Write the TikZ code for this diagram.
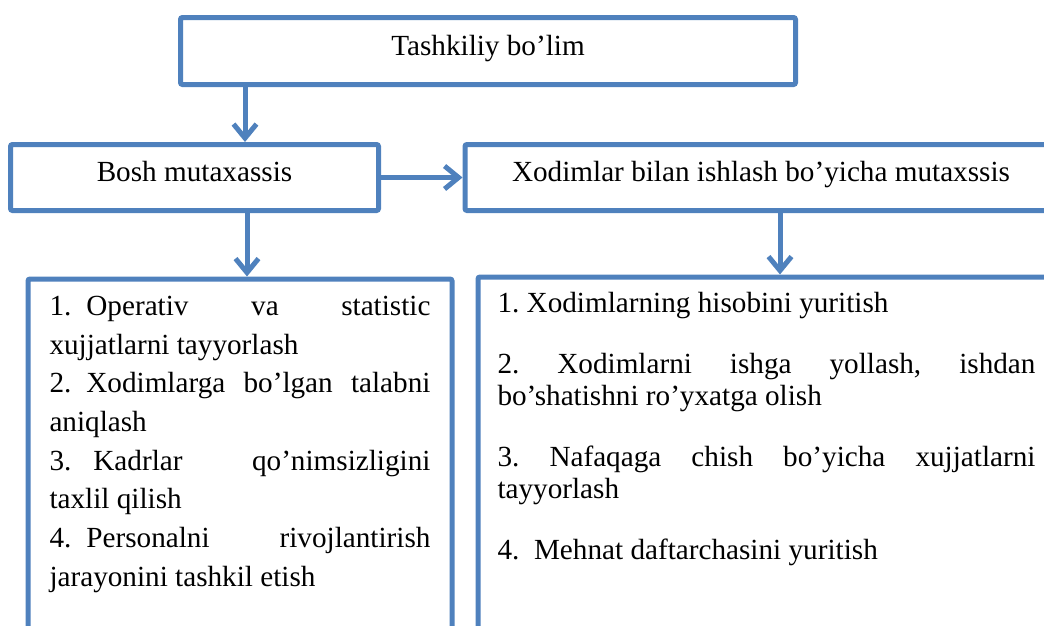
\documentclass[tikz,border=0pt]{standalone}
\usepackage{fontspec}
\setmainfont{Liberation Serif}
\usetikzlibrary{arrows.meta}
\definecolor{boxblue}{HTML}{4F81BD}
\hyphenpenalty=10000
\exhyphenpenalty=10000
\tolerance=10000
\hbadness=10000
\frenchspacing
\tikzset{
    unitbox/.style={draw=boxblue, line width=5pt, rounded corners=2pt, fill=white,
        align=center, inner sep=0pt, text height=19pt, text depth=11pt,
        font=\fontsize{29.2}{34}\selectfont},
    listbox/.style={draw=boxblue, line width=5pt, rounded corners=2pt, fill=white,
        anchor=north west, align=justify},
    arr/.style={draw=boxblue, line width=5pt, -{Straight Barb[length=14pt,width=23pt]}},
}
\begin{document}
\begin{tikzpicture}[x=1pt, y=-1pt]
    \useasboundingbox (0,0) rectangle (1044,625);
    \clip (0,0) rectangle (1044,625);

    %%the unit boxes
    \node[unitbox, minimum width=615pt, minimum height=67pt] (bolim) at (488, 51) {Tashkiliy bo’lim};
    \node[unitbox, minimum width=368pt, minimum height=66pt] (bosh) at (194.5, 177.5) {Bosh mutaxassis};
    \node[unitbox, minimum width=592pt, minimum height=66pt] (xodim) at (761, 177.5) {Xodimlar bilan ishlash bo’yicha mutaxssis};

    %%the task lists
    \node[listbox, text width=381pt, inner xsep=21.5pt, inner ysep=17pt,
        font=\fontsize{29.2}{38.7}\selectfont] (boshlist) at (25.5, 276.5) {%
        1.\hspace{15pt}Operativ va statistic\linebreak xujjatlarni tayyorlash\par
        2.\hspace{15pt}Xodimlarga bo’lgan talabni\linebreak aniqlash\par
        3.\hspace{22pt}Kadrlar qo’nimsizligini\linebreak taxlil qilish\par
        4.\hspace{15pt}Personalni rivojlantirish\linebreak jarayonini tashkil etish\par
        \rule{0pt}{120pt}};
    \node[listbox, text width=538pt, inner xsep=19.5pt, inner ysep=15pt,
        font=\fontsize{29.2}{31.5}\selectfont] (xodimlist) at (475.5, 274.5) {%
        \setlength{\parskip}{30pt}%
        1. Xodimlarning hisobini yuritish\par
        2. Xodimlarni ishga yollash, ishdan\linebreak bo’shatishni ro’yxatga olish\par
        3. Nafaqaga chish bo’yicha xujjatlarni\linebreak tayyorlash\par
        4.~~Mehnat daftarchasini yuritish\par
        \rule{0pt}{120pt}};

    %%the arrows
    \coordinate (c1) at (245, 0);
    \coordinate (c2) at (247, 0);
    \coordinate (c3) at (780, 0);
    \draw[arr] (bolim.south -| c1) -- (bosh.north -| c1);
    \draw[arr] (bosh.east) -- (xodim.west);
    \draw[arr] (bosh.south -| c2) -- (boshlist.north -| c2);
    \draw[arr] (xodim.south -| c3) -- (xodimlist.north -| c3);
\end{tikzpicture}
\end{document}
